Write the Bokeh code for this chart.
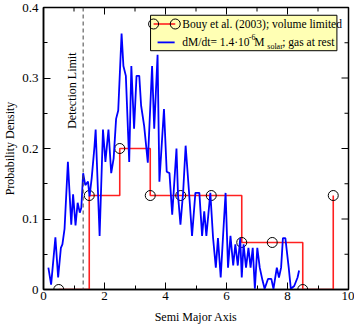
from bokeh.plotting import figure
from bokeh.models import SingleIntervalTicker, Range1d, Label, BoxAnnotation, Span
from bokeh.embed import file_html
from bokeh.resources import INLINE

# ---- data ----
bouy_x = [0.5, 1.5, 2.5, 3.5, 4.5, 5.5, 6.5, 7.5, 8.5, 9.5]
bouy_y = [0.0, 0.1333, 0.2, 0.1333, 0.1333, 0.1333, 0.0667, 0.0667, 0.0, 0.1333]

sim_x = [0.16, 0.25, 0.39, 0.48, 0.57, 0.62, 0.69, 0.80, 0.91, 0.97, 1.05, 1.12,
         1.19, 1.24, 1.30, 1.37, 1.46, 1.51, 1.58, 1.67, 1.71, 1.84, 1.95, 2.03,
         2.13, 2.22, 2.30, 2.38, 2.45, 2.56, 2.62, 2.70, 2.81, 2.88, 2.97, 3.05,
         3.14, 3.20, 3.30, 3.42, 3.56, 3.63, 3.74, 3.80, 3.95, 4.04, 4.13, 4.22,
         4.36, 4.41, 4.49, 4.58, 4.66, 4.77, 4.87, 4.98, 5.11, 5.20, 5.27, 5.34,
         5.47, 5.56, 5.65, 5.72, 5.81, 5.89, 5.97, 6.05, 6.13, 6.22, 6.29, 6.37,
         6.45, 6.50, 6.56, 6.64, 6.72, 6.79, 6.86, 6.93, 7.01, 7.09, 7.18, 7.25,
         7.36, 7.47, 7.54, 7.65, 7.72, 7.79, 7.85, 7.93, 8.04, 8.11, 8.22, 8.33,
         8.38]
sim_y = [0.031, 0.007, 0.074, 0.017, 0.059, 0.064, 0.086, 0.181, 0.092, 0.135, 0.091, 0.123,
         0.109, 0.116, 0.165, 0.148, 0.153, 0.132, 0.158, 0.202, 0.227, 0.076, 0.227, 0.181,
         0.227, 0.165, 0.186, 0.242, 0.254, 0.363, 0.317, 0.303, 0.181, 0.317, 0.228, 0.303,
         0.303, 0.261, 0.232, 0.180, 0.317, 0.228, 0.333, 0.153, 0.256, 0.167, 0.165, 0.106,
         0.200, 0.134, 0.092, 0.139, 0.204, 0.139, 0.076, 0.137, 0.137, 0.076, 0.111, 0.076,
         0.137, 0.073, 0.031, 0.073, 0.017, 0.078, 0.137, 0.031, 0.076, 0.034, 0.064, 0.034,
         0.073, 0.017, 0.064, 0.031, 0.059, 0.031, 0.059, 0.001, 0.059, 0.031, 0.013, 0.001,
         0.015, 0.015, 0.001, 0.031, 0.017, 0.031, 0.073, 0.073, 0.031, 0.001, 0.005, 0.017,
         0.027]

detection_limit = 1.3
x_title = "Semi Major Axis"
y_title = "Probability Density"
legend_bouy = "Bouy et al. (2003); volume limited"
legend_sim_parts = ["dM/dt= 1.4·10", "-6", " M", "solar", "; gas at rest"]

# tick positions (for the mirrored top / right ticks)
x_major = [0, 2, 4, 6, 8, 10]
x_minor = [1, 3, 5, 7, 9]
y_major = [0.0, 0.1, 0.2, 0.3, 0.4]
y_minor = [0.05, 0.15, 0.25, 0.35]
X_MAX, Y_MAX = 10, 0.4

FONT = "Liberation Serif"

p = figure(width=354, height=327, x_range=Range1d(0, X_MAX), y_range=Range1d(0, Y_MAX),
           output_backend="svg", toolbar_location=None,
           min_border_left=38, min_border_right=6, min_border_top=7, min_border_bottom=38)
p.grid.visible = False
p.outline_line_color = "black"
p.outline_line_width = 1.5
p.background_fill_color = "white"
p.border_fill_color = "white"


def style_axis(ax):
    ax.axis_line_color = "black"
    ax.axis_line_width = 1.5
    ax.major_tick_in = 7
    ax.major_tick_out = 0
    ax.minor_tick_in = 4
    ax.minor_tick_out = 0
    ax.major_tick_line_color = "black"
    ax.minor_tick_line_color = "black"
    ax.major_label_text_font = FONT
    ax.major_label_text_font_size = "13px"
    ax.major_label_text_color = "black"
    ax.axis_label_text_font = FONT
    ax.axis_label_text_font_size = "12px"
    ax.axis_label_text_font_style = "normal"
    ax.axis_label_text_color = "black"


xa = p.xaxis[0]
xa.ticker = SingleIntervalTicker(interval=2, num_minor_ticks=2)
xa.axis_label = x_title
xa.axis_label_standoff = 7
xa.major_label_standoff = 2
style_axis(xa)

ya = p.yaxis[0]
ya.ticker = SingleIntervalTicker(interval=0.1, num_minor_ticks=2)
ya.axis_label = y_title
ya.axis_label_standoff = 2
ya.major_label_standoff = 5
ya.major_label_overrides = {0: "0"}
style_axis(ya)

# mirrored inward ticks on top and right (clipped to the frame)
p.scatter(x_major, [Y_MAX] * len(x_major), marker="dash", size=14, angle=90, angle_units="deg",
          line_color="black", line_width=1)
p.scatter(x_minor, [Y_MAX] * len(x_minor), marker="dash", size=8, angle=90, angle_units="deg",
          line_color="black", line_width=1)
p.scatter([X_MAX] * len(y_major), y_major, marker="dash", size=14,
          line_color="black", line_width=1)
p.scatter([X_MAX] * len(y_minor), y_minor, marker="dash", size=8,
          line_color="black", line_width=1)

# detection limit
p.add_layout(Span(location=detection_limit, dimension="height", line_color="#444444",
                  line_dash="4 3", line_width=1))
p.add_layout(Label(x=0.94, y=0.282, text="Detection Limit", angle=90, angle_units="deg",
                   text_align="center", text_baseline="middle", text_font=FONT,
                   text_font_size="12px", text_color="black"))

# data series
p.step(bouy_x, bouy_y, mode="after", line_color="#ff2020", line_width=1.6)
p.scatter(bouy_x, bouy_y, marker="circle", size=10, fill_color=None,
          line_color="black", line_width=1)
p.line(sim_x, sim_y, line_color="#0000ff", line_width=1.8)

# manual legend
p.add_layout(BoxAnnotation(left=3.51, right=9.62, bottom=0.3387, top=0.389,
                           fill_color="#ffffb4", fill_alpha=1.0,
                           line_color="black", line_width=1, line_alpha=1.0))
leg_y1 = 0.3766
leg_y2 = 0.3505
leg_tx = 4.55
p.line([3.61, 4.32], [leg_y1, leg_y1], line_color="#ff2020", line_width=1.6, level="overlay")
p.scatter([3.61, 4.32], [leg_y1, leg_y1], marker="circle", size=10, fill_color=None,
          line_color="black", line_width=1, level="overlay")
p.line([3.74, 4.30], [leg_y2, leg_y2], line_color="#0000ff", line_width=1.8, level="overlay")

p.add_layout(Label(x=leg_tx, y=leg_y1, text=legend_bouy, text_font=FONT,
                   text_font_size="11.5px", text_baseline="middle", text_color="black"))
# second entry, pieces with superscript / subscript
piece_offsets = [0, 66.5, 72, 85, 100]
piece_dy = [0, 5, 0, -4, 0]
piece_sizes = ["11.5px", "8px", "11.5px", "8px", "11.5px"]
for txt, dx, dy, fs in zip(legend_sim_parts, piece_offsets, piece_dy, piece_sizes):
    p.add_layout(Label(x=leg_tx, y=leg_y2, x_offset=dx, y_offset=dy, text=txt,
                       text_font=FONT, text_font_size=fs, text_baseline="middle",
                       text_color="black"))

open("out.html", "w").write(file_html(p, INLINE))
